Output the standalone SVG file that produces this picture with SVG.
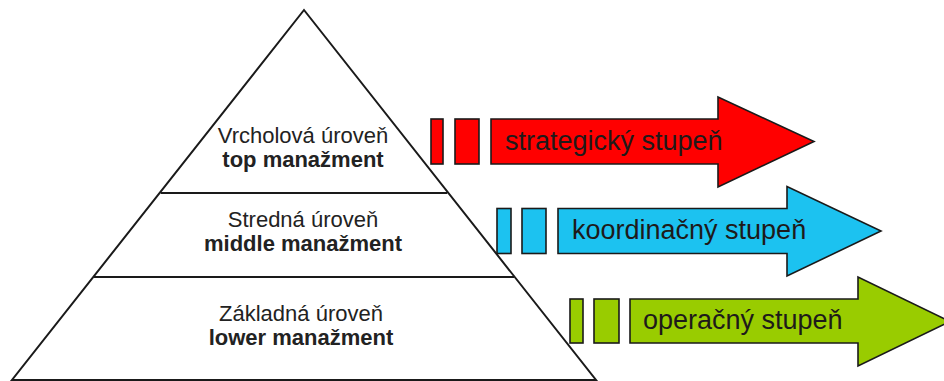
<svg xmlns="http://www.w3.org/2000/svg" width="944" height="381" viewBox="0 0 944 381">
<style>
.pyr{fill:none;stroke:#1a1a1a;stroke-width:2;stroke-linejoin:miter}
.div{stroke:#1a1a1a;stroke-width:2}
.lvl{font-family:"Liberation Sans",Arial,sans-serif;font-size:22px;fill:#222;text-anchor:middle}
.b{font-weight:bold}
.arr{stroke:#1a1a1a;stroke-width:1.6;stroke-linejoin:miter}
.red{fill:#ff0000}
.blue{fill:#1cc2f0}
.green{fill:#99cc00}
.lab{font-family:"Liberation Sans",Arial,sans-serif;font-size:27px;fill:#1e1a1a}
</style>
<rect width="944" height="381" fill="#ffffff"/>
<g id="pyramid">
<polygon class="pyr" points="304,10 12,380 596,380"/>
<g id="connectors">
<line class="div" x1="160.7" y1="193" x2="447.3" y2="193"/>
<line class="div" x1="94" y1="277" x2="514" y2="277"/>
</g>
</g>
<g id="level-top">
<text class="lvl" x="303" y="143">Vrcholová úroveň</text>
<text class="lvl b" x="303" y="167">top manažment</text>
</g>
<g id="level-middle">
<text class="lvl" x="303" y="227">Stredná úroveň</text>
<text class="lvl b" x="303" y="251">middle manažment</text>
</g>
<g id="level-lower">
<text class="lvl" x="301" y="321">Základná úroveň</text>
<text class="lvl b" x="301" y="345">lower manažment</text>
</g>
<g id="arrow-strategic">
<rect class="arr red" x="431" y="119" width="12" height="45"/>
<rect class="arr red" x="455" y="119" width="24" height="45"/>
<path class="arr red" d="M491,119 H718 V97 L814,141.5 L718,187 V164 H491 Z"/>
<text class="lab" x="505" y="150">strategický stupeň</text>
</g>
<g id="arrow-coordination">
<rect class="arr blue" x="497" y="208.5" width="14" height="45"/>
<rect class="arr blue" x="522" y="208.5" width="24" height="45"/>
<path class="arr blue" d="M558,208.5 H787 V186.5 L881,231 L787,276 V253.5 H558 Z"/>
<text class="lab" x="572" y="239">koordinačný stupeň</text>
</g>
<g id="arrow-operational">
<rect class="arr green" x="570" y="299" width="13" height="44"/>
<rect class="arr green" x="594" y="299" width="25" height="44"/>
<path class="arr green" d="M630,299 H858 V277 L950,321.5 L858,366 V343 H630 Z"/>
<text class="lab" x="643" y="329">operačný stupeň</text>
</g>
</svg>
